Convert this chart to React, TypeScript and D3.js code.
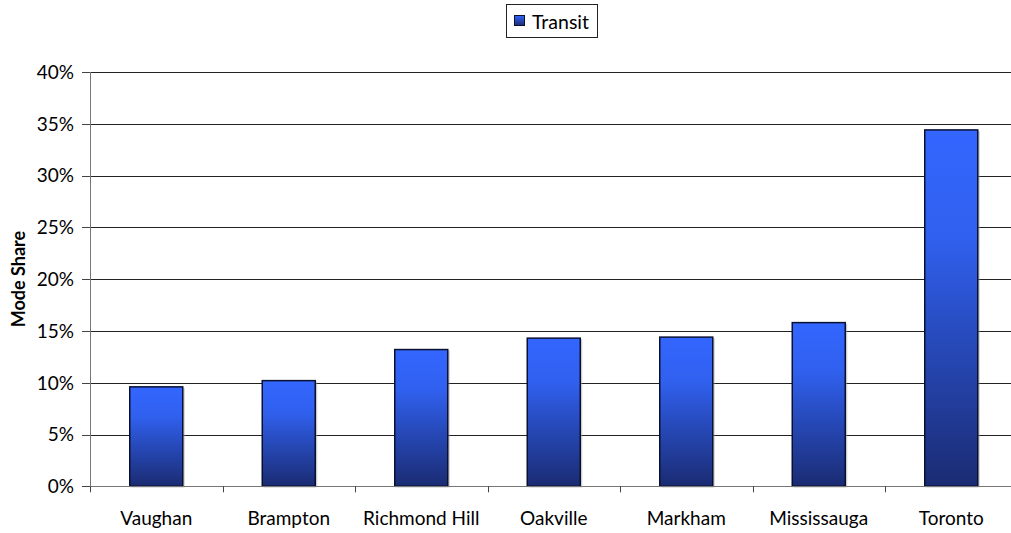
import React from "react";
import * as d3 from "d3";

const categories = ["Vaughan", "Brampton", "Richmond Hill", "Oakville", "Markham", "Mississauga", "Toronto"];
const transit = [9.6, 10.2, 13.2, 14.3, 14.4, 15.8, 34.4];
const yTicks = [0, 5, 10, 15, 20, 25, 30, 35, 40];
const seriesName = "Transit";
const yLabel = "Mode Share";

export default function App() {
  const W = 1011, H = 533;
  const left = 90, right = 1017.5, top = 71.9, bottom = 486.3;
  const x = d3.scaleBand<string>().domain(categories).range([left, right]).paddingInner(0.6).paddingOuter(0.3);
  const xOuter = d3.scaleBand<string>().domain(categories).range([left, right]);
  const y = d3.scaleLinear().domain([0, 40]).range([bottom, top]);
  const font = "Lato, 'Open Sans', sans-serif";
  return (
    <svg width={W} height={H} style={{ position: "absolute", left: 0, top: 0, background: "#fff" }}>
      <defs>
        <linearGradient id="barGrad" x1="0" y1="0" x2="0" y2="1">
          <stop offset="0%" stopColor="#3366ff" />
          <stop offset="30%" stopColor="#3060ee" />
          <stop offset="100%" stopColor="#1a2b72" />
        </linearGradient>
        <linearGradient id="swGrad" x1="0" y1="0" x2="0" y2="1">
          <stop offset="0%" stopColor="#3366ff" />
          <stop offset="100%" stopColor="#1a2b72" />
        </linearGradient>
      </defs>
      {yTicks.slice(1).map((t) => (
        <line key={t} x1={left} x2={right} y1={Math.round(y(t)) + 0.5} y2={Math.round(y(t)) + 0.5} stroke="#222" strokeWidth={1} />
      ))}
      {yTicks.map((t) => (
        <g key={"yt" + t}>
          <line x1={left - 8} x2={left} y1={Math.round(y(t)) + 0.5} y2={Math.round(y(t)) + 0.5} stroke="#444" />
          <text x={74} y={y(t)} dy="0.36em" textAnchor="end" fontFamily={font} fontSize={19} fill="#000">{t}%</text>
        </g>
      ))}
      {categories.map((c, i) => {
        const x0 = x(c)!;
        const bw = x.bandwidth();
        const yt = y(transit[i]);
        return (
          <g key={c}>
            <rect x={x0 + 2} y={yt + 1} width={bw} height={bottom - yt} fill="#999" opacity={0.5} />
            <rect x={x0} y={yt} width={bw} height={bottom - yt} fill="url(#barGrad)" stroke="#0a1030" strokeWidth={1.5} />
          </g>
        );
      })}
      <line x1={left + 0.5} x2={left + 0.5} y1={top} y2={bottom} stroke="#777" />
      <line x1={left} x2={right} y1={Math.round(bottom) + 0.5} y2={Math.round(bottom) + 0.5} stroke="#777" />
      {categories.map((c) => (
        <line key={"xt" + c} x1={Math.round(xOuter(c)!) + 0.5} x2={Math.round(xOuter(c)!) + 0.5} y1={bottom} y2={bottom + 6} stroke="#444" />
      ))}
      {categories.map((c) => (
        <text key={"xl" + c} x={xOuter(c)! + xOuter.bandwidth() / 2} y={525} textAnchor="middle" fontFamily={font} fontSize={19} fill="#000">{c}</text>
      ))}
      <text transform={`translate(25,${(top + bottom) / 2}) rotate(-90)`} textAnchor="middle" fontFamily={font} fontSize={18} fontWeight="bold" fill="#000">{yLabel}</text>
      <g>
        <rect x={506.5} y={4.5} width={91} height={33} fill="#fff" stroke="#222" />
        <rect x={514.5} y={15.5} width={10} height={10} fill="url(#swGrad)" stroke="#0a1030" />
        <text x={532} y={29} fontFamily={font} fontSize={19.5} fill="#000">{seriesName}</text>
      </g>
    </svg>
  );
}
